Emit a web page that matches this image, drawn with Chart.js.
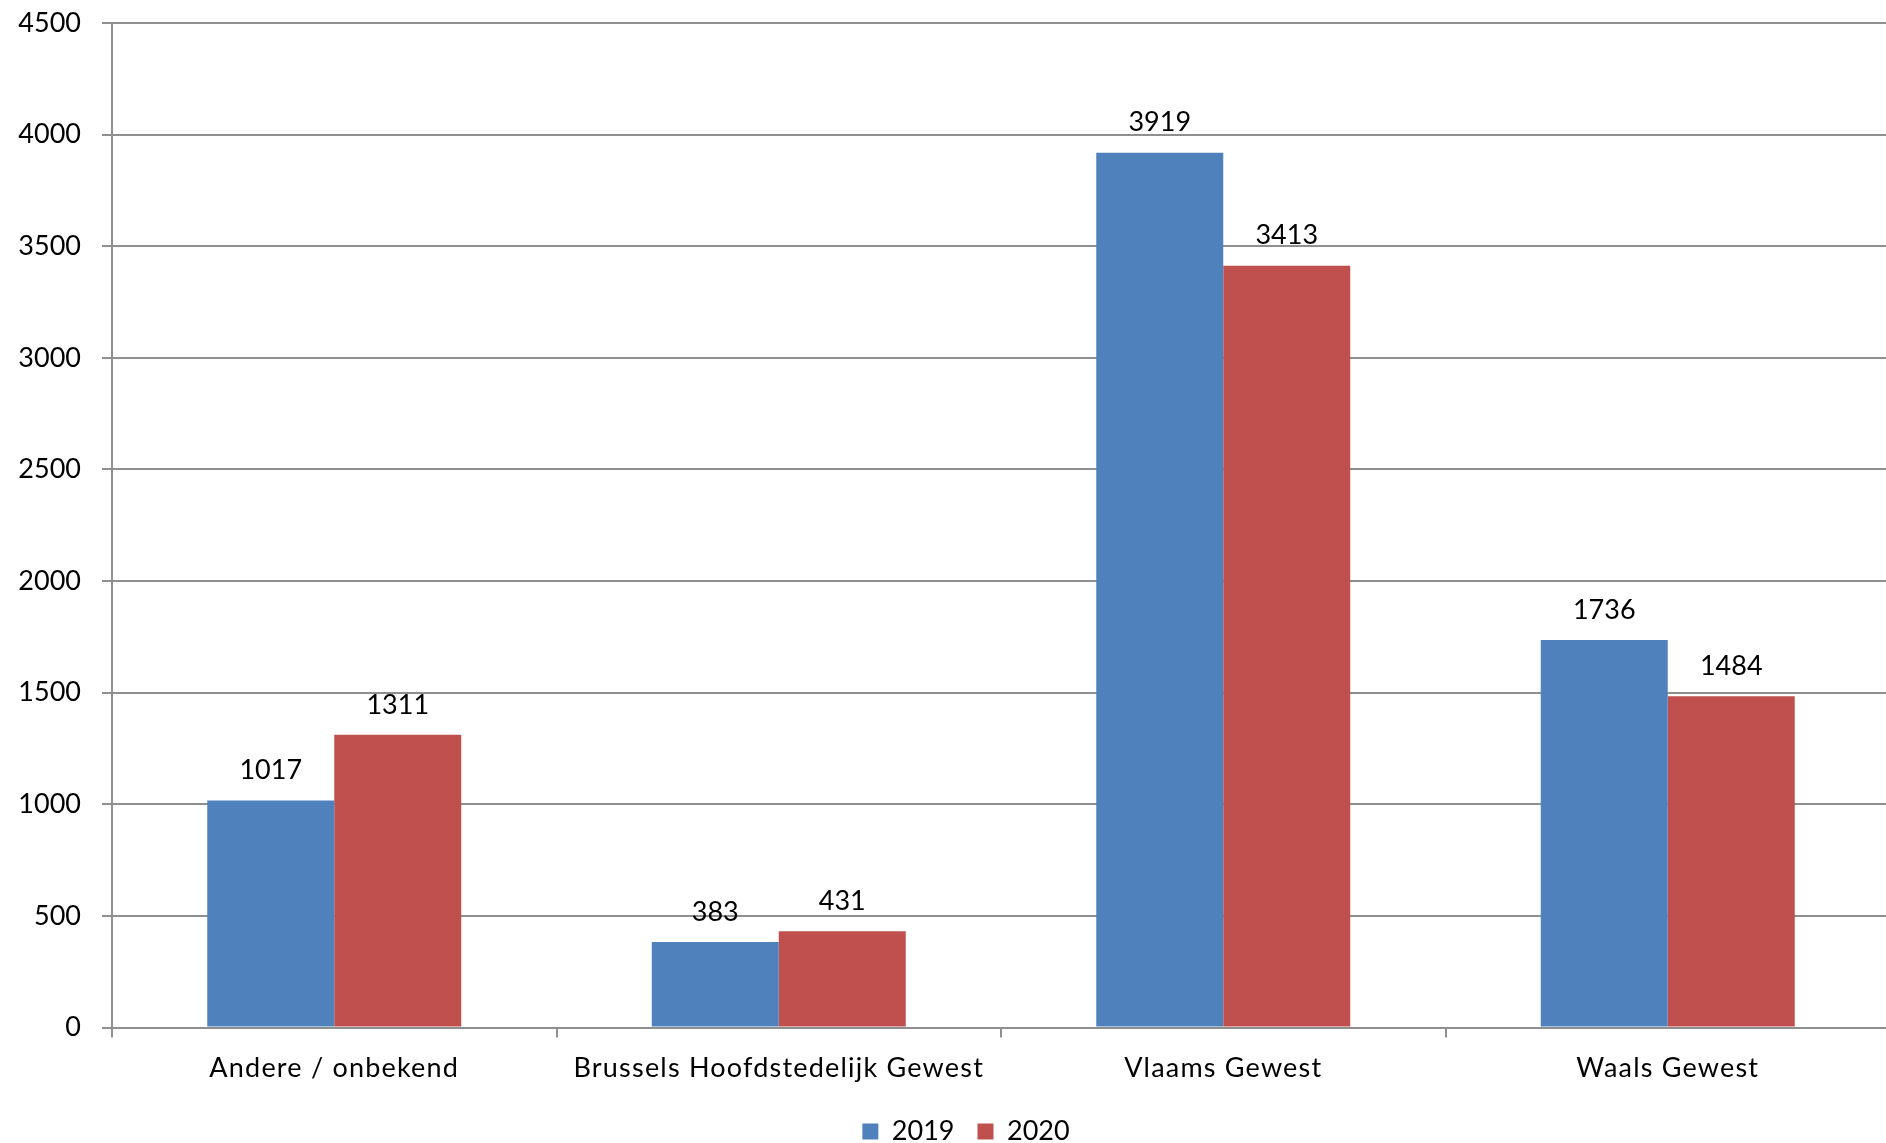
<!DOCTYPE html>
<html>
<head>
<meta charset="utf-8">
<script src="https://cdn.jsdelivr.net/npm/chart.js@4/dist/chart.umd.min.js"></script>
<style>
  html, body { margin: 0; padding: 0; overflow: hidden; background: #ffffff; }
  canvas { display: block; }
</style>
</head>
<body>
<canvas id="chart" width="1890" height="1155"></canvas>
<script>
// Regions and yearly counts
const categories = ['Andere / onbekend', 'Brussels Hoofdstedelijk Gewest', 'Vlaams Gewest', 'Waals Gewest'];
const seriesNames = ['2019', '2020'];
const values2019 = [1017, 383, 3919, 1736];
const values2020 = [1311, 431, 3413, 1484];
const yTicks = [0, 500, 1000, 1500, 2000, 2500, 3000, 3500, 4000, 4500];

const BLUE = '#4F81BD';
const RED = '#C0504D';
const GRID = '#8f8f8f';
const FONT = 'Lato, "Open Sans", sans-serif';

// Value labels centred above each bar; the category labels (drawn in a
// later layer) get a little extra letter spacing
const barValueLabels = {
  id: 'barValueLabels',
  afterDatasetsDraw(chart) {
    const ctx = chart.ctx;
    ctx.save();
    ctx.font = '27px ' + FONT;
    ctx.fillStyle = '#000000';
    ctx.textAlign = 'center';
    ctx.textBaseline = 'middle';
    chart.data.datasets.forEach((ds, di) => {
      const meta = chart.getDatasetMeta(di);
      meta.data.forEach((bar, i) => {
        ctx.fillText(String(ds.data[i]), bar.x, bar.y - 30);
      });
    });
    ctx.restore();
    if ('letterSpacing' in ctx) ctx.letterSpacing = '1.2px';
  },
  afterDraw(chart) {
    if ('letterSpacing' in chart.ctx) chart.ctx.letterSpacing = '0px';
  }
};

// Nudge the legend so it sits under the middle of the page
const legendShift = {
  id: 'legendShift',
  afterLayout(chart) {
    const lg = chart.legend;
    if (lg) { lg.left += 21; lg.right += 21; }
  }
};

function draw() {
  Chart.defaults.font.family = FONT;
  Chart.defaults.font.size = 27;
  Chart.defaults.color = '#000000';

  new Chart(document.getElementById('chart'), {
    type: 'bar',
    data: {
      labels: categories,
      datasets: [
        { label: seriesNames[0], data: values2019, backgroundColor: BLUE, borderWidth: 0 },
        { label: seriesNames[1], data: values2020, backgroundColor: RED, borderWidth: 0 }
      ]
    },
    options: {
      responsive: false,
      animation: false,
      devicePixelRatio: 1,
      layout: { padding: { top: 23, left: 0, right: 0, bottom: 0 } },
      datasets: { bar: { categoryPercentage: 0.5714, barPercentage: 1.0 } },
      plugins: {
        legend: {
          position: 'bottom',
          labels: { boxWidth: 16, boxHeight: 16, padding: 23, font: { size: 27 }, color: '#000000' }
        },
        tooltip: { enabled: false },
        title: { display: false }
      },
      scales: {
        x: {
          offset: true,
          grid: { display: true, offset: true, drawOnChartArea: false, drawTicks: true, tickLength: 10, color: GRID, lineWidth: 2 },
          border: { display: true, color: GRID, width: 2 },
          ticks: { z: 1, padding: 15, font: { size: 27 }, color: '#000000', maxRotation: 0, autoSkip: false },
          afterFit(scale) { scale.height = 67.5; }
        },
        y: {
          min: 0,
          max: 4500,
          afterBuildTicks(scale) { scale.ticks = yTicks.map(v => ({ value: v })); },
          grid: { display: true, drawOnChartArea: true, drawTicks: true, tickLength: 10, color: GRID, lineWidth: 2 },
          border: { display: true, color: GRID, width: 2 },
          ticks: { padding: 21, font: { size: 27 }, color: '#000000', callback: v => String(v) },
          afterFit(scale) {
            scale.width = 112;
            scale.paddingTop = 0;
            scale.paddingBottom = 0;
          }
        }
      }
    },
    plugins: [barValueLabels, legendShift]
  });
}

if (document.fonts && document.fonts.load) {
  document.fonts.load('27px Lato').then(draw, draw);
} else {
  draw();
}
</script>
</body>
</html>
